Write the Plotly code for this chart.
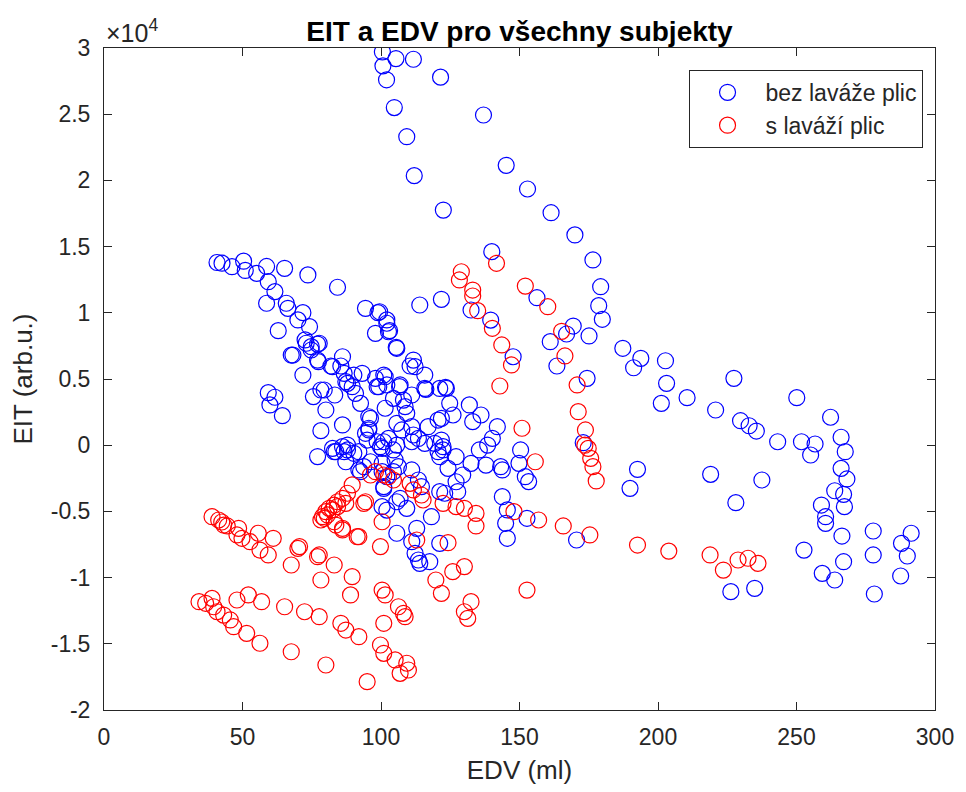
import plotly.graph_objects as go

# EDV (ml) and EIT (arb.u.) for subjects without lung lavage
bez_x = [100.5, 100.7, 102, 104.8, 105.4, 111.7, 121.5, 109.3, 112, 122.5, 137, 145.2, 152.9, 161.4, 170, 176.5, 140,
         179.3, 178.6, 179.9, 169.4, 167, 175.1, 161.1, 163.5, 174.4, 187.3, 193.8, 191.2, 202.7, 203.1, 201.2, 210.5,
         220.8, 227.4, 229.8, 232.9, 235.5, 243.2, 250.1, 251.8, 256.7, 255.1, 262.3, 266.1, 267.6, 266.1, 268.2, 263.8,
         267, 267.3, 219, 237.5, 228.1, 259, 260.5, 260.5, 266.4, 252.7, 259.3, 263.8, 267, 277.7, 277.7, 278.1, 287.9,
         291.4, 290, 287.6, 226.3, 234.9, 192.6, 189.9, 156.3, 147.7, 139.6, 132.5, 173, 170.6,
         150.4, 149.8, 152.1, 153.3, 145.6, 145, 145.6, 152.7, 143.8,
         114, 121.8, 99.5, 102.1, 103.1, 105.5, 111.7, 110.5, 115.8, 116.2, 123.3, 101.5, 99.2, 106.7,
         40.8, 42.6, 46.2, 50.4, 51, 55.1, 58.7, 65.2, 73.6, 84.3, 59.3, 61.7, 58.7, 65.8, 66.4, 71.8, 70, 74.2, 62.9,
         72.6, 74.8, 77.1, 77.1, 67.6, 81.9, 86.1, 85.5, 71.8, 59.3, 61.7, 59.9, 64.4, 75.6, 79.5, 83.3, 80.1, 86.7,
         87.9, 90.2, 93.2, 90.8, 92.6, 94.4, 98.9, 98, 96.2, 95.6, 86.1, 78.3, 95, 101, 99.8, 77.1, 83.1, 86.1, 87.9,
         87.3, 92, 92.6, 96.2, 100.4, 101, 100.4,
         102.7, 102.1, 105.7, 73, 77.7, 74.8, 68.2, 77.4, 82.5, 89.6, 87.3, 98, 101, 112.3, 121.2, 115.8, 98.6, 102.1,
         106.9, 78.3, 101.5, 104.5, 108.1, 108.7, 109.3, 111.1, 95.6, 94.4, 95.6, 105.7, 107.5, 111.1, 111.7, 117,
         120.6, 98.6, 100.4, 102.7, 104.5, 105.7, 111.1, 113.5, 115.8, 119.4, 120.6, 122.4, 87.9, 86.7, 90.2, 83.7,
         82.5, 92, 93.8, 105.1, 106.3, 104.5, 111.1, 100.4, 102.1, 113.5, 114.6, 101, 121.2, 106.9, 105.7, 102.1,
         109.3, 118.2, 105.7, 112.9, 111.1, 112.3, 113.5, 121.2, 114, 117.6,
         123.6, 124.8, 126, 121.8, 131.9, 136.1, 133.1, 142, 140.2, 138.5, 135.5, 121.8, 122.4, 121.2, 127.1, 132.5,
         137.9, 143.2, 143.8, 124.2, 129.5, 127.1, 127.7, 123]
bez_y = [29700, 28650, 27600, 25500, 29200, 29150, 27800, 23300, 20360, 17760, 24940, 21140, 19350, 17560, 15880, 13990, 14620,
         11970, 10540, 9510, 9000, 8400, 8250, 7820, 5980, 5050, 7320, 6560, 5850, 6380, 4670, 3160, 3590,
         2660, 5050, 1850, 1470, 1070, 260, 3590, 260, 90, -740, 2110, 600, -490, -1750, -2550, -3440,
         -3710, -4640, -2200, -2630, -4340, -4520, -5400, -5900, -6860, -7920, -9680, -10180, -8800, -6480, -8290, -11240, -7410,
         -6650, -8370, -9880, -11060, -10810, -1820, -3260, 11140, 6680, 9450, 10210, 190, -7160,
         -360, -1370, -2380, -2750, -4890, -5900, -7030, -5520, -3890,
         10590, 11020, 10080, 9460, 8650, 7390, 6430, 5980, 5300, 4220, 4370, 5170, 4420, 4420,
         13800, 13750, 13480, 13900, 13200, 12980, 13500, 13360, 12860, 11930, 12350, 11600, 10720, 10720, 10340, 10010, 9460, 8950, 8650,
         7950, 7440, 7640, 6430, 6810, 5980, 6680, 5980, 5300, 3970, 3620, 3040, 2230, 3670, 4170, 3790, 2660, 5430,
         4670, 5300, 5430, 3920, 3160, 10340, 10010, 8450, 2030, 1150, 1530, 1100, 390, 260, -110, -860, -490, -110, -360,
         -1250, -490, -2000, -1250, -1370, -3130, -4640,
         8570, 9210, 7320, 7700, 7700, 7190, 6810, 6310, 5930, 4420, 4800, 5050, 5300, 5930, 4290, 4290, 4420, 4550,
         4550, 4170, 2790, 3540, 3410, 2910, 2410, 3790, 2150, 900, 1280, 1650, 1150, 1400, 770, 1400,
         1900, 260, -240, 510, -360, 10, 260, 510, 140, 140, -490, -110, 10, -490, -610, -490,
         -240, -1870, -1620, -1120, -1620, -2000, -1870, -2000, -2380, -2630, -3130, -3260, -3510, -4010, -4270, -4900,
         -4770, -5400, -6650, -6280, -7290, -8170, -8670, -7410, -8920, -8800,
         4290, 3160, 2280, 2030, 3040, 2280, 1780, 1400, 520, 10, -360, 390, -360, -870, -870, -1370,
         -1500, -1620, -1870, -1750, -2250, -2760, -3510, -3630]

# EDV (ml) and EIT (arb.u.) for subjects with lung lavage
s_x = [141.7, 129, 128.3, 133.1, 133.1, 134.9, 140.2, 143.6, 147.1, 142.9, 152.1, 160.2, 165.2, 166.4, 170.8, 171.2,
       173.8, 173.6, 174.8, 175.7, 176.5, 177.7, 150.9, 155.7,
       96.2, 98, 101, 102.7, 104.5, 89.6, 110.5, 111.7, 114.6, 115.2,
       87.9, 86.1, 84.3, 83.1, 81.3, 80.1, 78.9, 78.3, 82.5, 84.3, 87.3, 93.8, 79.5, 83.7, 86.1, 80.7, 94.4, 83.1,
       86.1, 91.4, 100.4, 99.8, 70.6, 77.7, 112.9,
       122.4, 127.1, 130.1, 134.3, 134.3, 124.2, 125.9, 130.1, 119.8, 121.8, 132.5, 130.1, 131.3,
       100.4, 101.5, 106.3, 108.1, 108.7, 101, 99.8, 101, 105.1, 109.3, 109.9, 106.9,
       148, 156.9, 152.7, 165.8, 175.4, 192.6, 203.9, 218.8, 223.6, 228.9, 232.5, 236.1,
       39, 41.4, 42.5, 43.2, 44.5, 48.6, 48, 49.8, 52.7, 55.7, 61.1, 56.3, 59.3, 70, 67.6, 77.1, 83.1, 78.3, 89.6,
       89, 92,
       34.3, 36.7, 39, 39.6, 40.8, 43.2, 45.6, 46.8, 48, 52.1, 51.5, 56.9, 56.3, 65.2, 72.4, 77.7, 67.6, 80.1,
       85.5, 87.3, 92, 95]
s_y = [13740, 13100, 12480, 11720, 11270, 10160, 8830, 7570, 6060, 4470, 12020, 10460, 8600, 6740, 4550, 2530,
       1150, 0, -240, -990, -1620, -2700, 1280, -1250,
       -2250, -2000, -2250, -2380, -2630, -3000, -2880, -3380, -3760, -4140,
       -3630, -4010, -4270, -4520, -4770, -5020, -5400, -5650, -4890, -4640, -4390, -4390, -5520, -6030, -6400, -5270, -4270, -5780,
       -6280, -6910, -5780, -7660, -7660, -8290, -7160,
       -4390, -4640, -4770, -5150, -6100, -7360, -9550, -9170, -10180, -11190, -11820, -12580, -13080,
       -10940, -11310, -12200, -12700, -12950, -13450, -15090, -15720, -16220, -16470, -16980, -17230,
       -5020, -5650, -10940, -6100, -6780, -7540, -8000, -8290, -9430, -8670, -8540, -8920,
       -5400, -5650, -5800, -6030, -6100, -6280, -6780, -7030, -7290, -6650, -7030, -7920, -8290, -7790, -9050, -8420, -9050, -10180, -9930,
       -11310, -6910,
       -11820, -11940, -11570, -12200, -12580, -12830, -13200, -13710, -11690, -11310, -14210, -11820, -14960, -12200, -12580, -12950, -15600, -16600,
       -13450, -13960, -14460, -17860]

y_ticks = [-20000, -15000, -10000, -5000, 0, 5000, 10000, 15000, 20000, 25000, 30000]
y_tick_text = ["-2", "-1.5", "-1", "-0.5", "0", "0.5", "1", "1.5", "2", "2.5", "3"]
x_ticks = [0, 50, 100, 150, 200, 250, 300]

FONT = "Liberation Sans, Arial, Helvetica, sans-serif"
AX = "rgb(38,38,38)"

fig = go.Figure()
fig.add_trace(go.Scatter(x=bez_x, y=bez_y, mode="markers", name="bez laváže plic",
                         marker=dict(symbol="circle-open", size=16, color="rgb(0,0,255)", line=dict(width=1.2))))
fig.add_trace(go.Scatter(x=s_x, y=s_y, mode="markers", name="s laváží plic",
                         marker=dict(symbol="circle-open", size=16, color="rgb(255,0,0)", line=dict(width=1.2))))

axis_common = dict(showline=True, linecolor=AX, linewidth=1, mirror="ticks", ticks="inside", ticklen=8,
                   tickcolor=AX, tickwidth=1, showgrid=False, zeroline=False,
                   tickfont=dict(family=FONT, size=23, color=AX))

fig.update_xaxes(range=[0, 300], tickvals=x_ticks, ticklabelstandoff=6,
                 title=dict(text="EDV (ml)", font=dict(family=FONT, size=26, color=AX), standoff=12),
                 **axis_common)
fig.update_yaxes(range=[-20000, 30000], tickvals=y_ticks, ticktext=y_tick_text, ticklabelstandoff=8,
                 title=dict(text="EIT (arb.u.)", font=dict(family=FONT, size=26, color=AX), standoff=10),
                 **axis_common)

fig.add_annotation(xref="paper", yref="paper", x=0.0, y=1.0, xanchor="left", yanchor="bottom",
                   text="×10<sup>4</sup>", showarrow=False, font=dict(family=FONT, size=25, color=AX), yshift=-1)

fig.update_layout(
    width=966, height=792,
    margin=dict(l=104, r=22, t=48, b=82),
    paper_bgcolor="white", plot_bgcolor="white",
    title=dict(text="<b>EIT a EDV pro všechny subjekty</b>", x=0.5, xref="paper", xanchor="center",
               y=1 - 31 / 792, yref="container", yanchor="middle",
               font=dict(family=FONT, size=28, color="black")),
    legend=dict(x=0.985, xanchor="right", y=0.967, yanchor="top", bgcolor="white",
                bordercolor=AX, borderwidth=1, font=dict(family=FONT, size=23, color=AX),
                tracegroupgap=0, itemwidth=66),
    showlegend=True,
)

fig.write_html("out.html")
